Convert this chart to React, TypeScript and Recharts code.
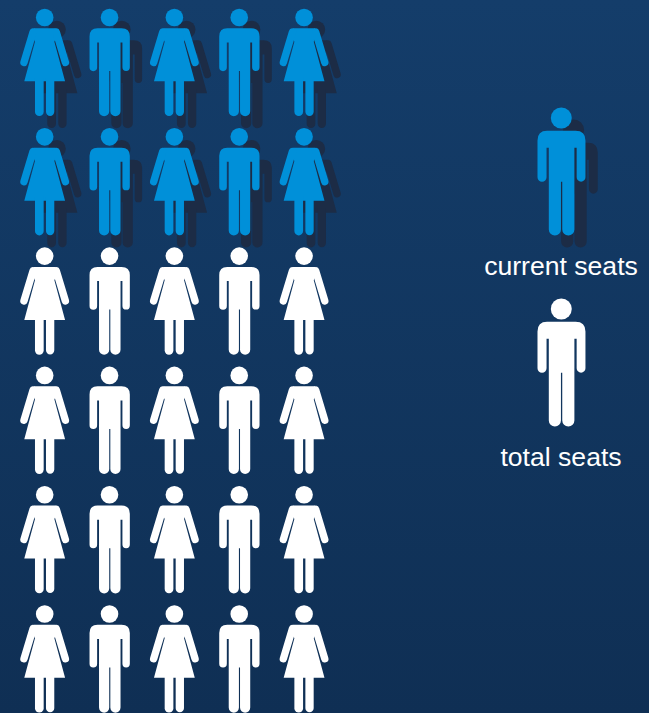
import React from 'react';
import { ScatterChart, Scatter, XAxis, YAxis } from 'recharts';

const WIDTH = 649;
const HEIGHT = 713;

// one figure per cell, 5 across and 6 down
const columns = [1, 2, 3, 4, 5];
const columnKinds = ['woman', 'man', 'woman', 'man', 'woman'];
const rows = [1, 2, 3, 4, 5, 6];
const rowStates = ['current', 'current', 'total', 'total', 'total', 'total'];

const legendLabels = ['current seats', 'total seats'];

const BLUE = '#0090d9';
const WHITE = '#ffffff';
const SHADOW = '#1c2c46';

const seats = rows.flatMap((row, r) =>
  columns.map((col, c) => ({ col, row, kind: columnKinds[c], state: rowStates[r] }))
);
const currentSeats = seats.filter((s) => s.state === 'current');

// figures are drawn around the centre of the head
const Man = ({ fill }: { fill: string }) => (
  <g fill={fill}>
    <circle cx={0} cy={0} r={8.8} />
    <path d="M-12 10.8 H12 Q20.3 10.8 20.3 19 V49.8 A3.7 3.7 0 0 1 12.9 49.8 V25 H11 V93.6 A5.1 5.1 0 0 1 0.8 93.6 V53.5 H-0.3 V93.6 A5.1 5.1 0 0 1 -10.5 93.6 V25 H-12.4 V49.8 A3.8 3.8 0 0 1 -20 49.8 V19 Q-20 10.8 -12 10.8 Z" />
  </g>
);

const Woman = ({ fill }: { fill: string }) => (
  <g fill={fill}>
    <circle cx={0} cy={0} r={8.8} />
    {/* shoulders and skirt, the gap to the arms stays open */}
    <path d="M-11 10.8 H11 L11.5 20 L9.7 24.2 L20.4 63.8 H-20.4 L-9.7 24.2 L-11.5 20 Z" />
    <path d="M-9.7 60 H-1 V94.2 A4.35 4.35 0 0 1 -9.7 94.2 Z" />
    <path d="M1.3 60 H9.6 V94.2 A4.15 4.15 0 0 1 1.3 94.2 Z" />
    <line x1={-11.6} y1={14.6} x2={-20.7} y2={44.8} stroke={fill} strokeWidth={7.4} strokeLinecap="round" />
    <line x1={11.6} y1={14.6} x2={20.7} y2={44.8} stroke={fill} strokeWidth={7.4} strokeLinecap="round" />
  </g>
);

const Figure = ({ kind, fill }: { kind: string; fill: string }) =>
  kind === 'woman' ? <Woman fill={fill} /> : <Man fill={fill} />;

const SeatShape = (props: any) => (
  <g transform={`translate(${props.cx},${props.cy})`}>
    <Figure kind={props.payload.kind} fill={props.payload.state === 'current' ? BLUE : WHITE} />
  </g>
);

const ShadowShape = (props: any) => (
  <g transform={`translate(${props.cx + 12.3},${props.cy + 12})`}>
    <Figure kind={props.payload.kind} fill={SHADOW} />
  </g>
);

const App = () => (
  <div
    style={{
      position: 'absolute',
      left: 0,
      top: 0,
      width: WIDTH,
      height: HEIGHT,
      overflow: 'hidden',
      background: 'linear-gradient(180deg, #143d6a 0%, #0f2f54 100%)',
    }}
  >
    <ScatterChart width={WIDTH} height={HEIGHT} margin={{ top: 0, right: 0, bottom: 0, left: 0 }}>
      <XAxis type="number" dataKey="col" domain={[0.311, 10.319]} hide allowDataOverflow />
      <YAxis type="number" dataKey="row" domain={[0.853, 6.83]} reversed hide allowDataOverflow />
      <Scatter data={currentSeats} shape={ShadowShape} isAnimationActive={false} />
      <Scatter data={seats} shape={SeatShape} isAnimationActive={false} />
    </ScatterChart>
    <svg width={WIDTH} height={HEIGHT} style={{ position: 'absolute', left: 0, top: 0 }}>
      <g transform="translate(573.6,130) scale(1.19)">
        <Man fill={SHADOW} />
      </g>
      <g transform="translate(561.3,118) scale(1.19)">
        <Man fill={BLUE} />
      </g>
      <g transform="translate(561.3,309) scale(1.19)">
        <Man fill={WHITE} />
      </g>
      <text x={561} y={275} textAnchor="middle" fill={WHITE} fontSize={26.6} fontFamily="Liberation Sans">
        {legendLabels[0]}
      </text>
      <text x={561} y={466} textAnchor="middle" fill={WHITE} fontSize={26.6} fontFamily="Liberation Sans">
        {legendLabels[1]}
      </text>
    </svg>
  </div>
);

export default App;
